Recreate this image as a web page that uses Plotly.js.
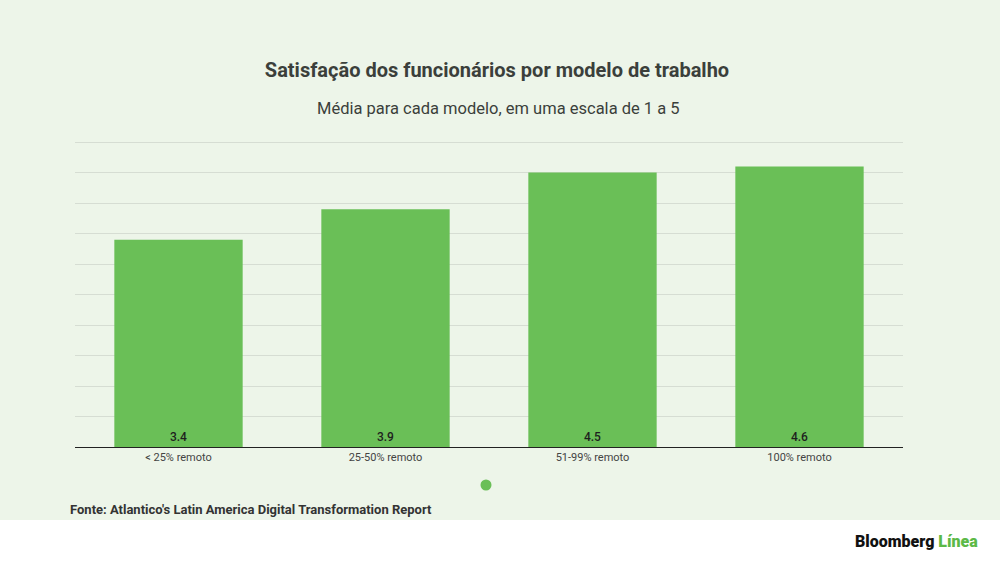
<!DOCTYPE html>
<html>
<head>
<meta charset="utf-8">
<script src="https://cdn.plot.ly/plotly-3.0.1.min.js"></script>
<style>
  html, body { margin: 0; padding: 0; background: #ffffff; }
  #chart { width: 1000px; height: 562px; }
</style>
</head>
<body>
<div id="chart"></div>
<script>
const MODELOS = ['< 25% remoto', '25-50% remoto', '51-99% remoto', '100% remoto']
const MEDIAS = [3.4, 3.9, 4.5, 4.6]
const TITULO = 'Satisfação dos funcionários por modelo de trabalho'
const SUBTITULO = 'Média para cada modelo, em uma escala de 1 a 5'
const FONTE = "Fonte: Atlantico's Latin America Digital Transformation Report"

const COLOR_BAR = '#6abf57'
const COLOR_BG = '#edf5e9'
const COLOR_TEXT = '#3b3f3b'

// plot area: baseline at y=447px, 0.5 units per 30.5px
const PLOT_H = 311

const trace = {
  type: 'bar',
  x: MODELOS,
  y: MEDIAS,
  marker: { color: COLOR_BAR },
  text: MEDIAS.map(v => v.toFixed(1)),
  textposition: 'inside',
  insidetextanchor: 'start',
  textangle: 0,
  textfont: { family: 'Roboto', size: 12, weight: 500, color: '#1e1e1e' },
  hoverinfo: 'x+y'
}

const layout = {
  width: 1000,
  height: 562,
  margin: { l: 75, r: 97, t: 447 - PLOT_H, b: 115 },
  paper_bgcolor: COLOR_BG,
  plot_bgcolor: COLOR_BG,
  font: { family: 'Roboto', color: COLOR_TEXT },
  showlegend: false,
  bargap: 0.38,
  title: {
    text: '<b>' + TITULO + '</b>',
    font: { family: 'Roboto', size: 20, color: COLOR_TEXT },
    x: 0.497,
    xanchor: 'center',
    y: 1 - 70 / 562,
    yanchor: 'middle'
  },
  xaxis: {
    showgrid: false,
    showline: true,
    linecolor: '#222222',
    linewidth: 1,
    ticks: '',
    tickfont: { family: 'Roboto', size: 11, color: '#444444' },
    fixedrange: true
  },
  yaxis: {
    range: [0, 5.1],
    tickvals: [0.5, 1, 1.5, 2, 2.5, 3, 3.5, 4, 4.5, 5],
    showgrid: true,
    gridcolor: '#d6ddd3',
    gridwidth: 1,
    showticklabels: false,
    zeroline: false,
    ticks: '',
    fixedrange: true
  },
  shapes: [
    {
      type: 'rect', xref: 'paper', yref: 'paper', layer: 'below',
      x0: -0.2, x1: 1.3, y0: -73 / PLOT_H, y1: -0.6,
      fillcolor: '#ffffff', line: { width: 0 }
    },
    {
      type: 'circle', xref: 'paper', yref: 'paper', layer: 'above',
      x0: (480.5 - 75) / 828, x1: (491.5 - 75) / 828,
      y0: (447 - 490.5) / PLOT_H, y1: (447 - 479.5) / PLOT_H,
      fillcolor: COLOR_BAR, line: { width: 0 }
    }
  ],
  annotations: [
    {
      text: SUBTITULO,
      xref: 'paper', yref: 'paper',
      x: (498 - 75) / 828, y: (447 - 108) / PLOT_H,
      xanchor: 'center', yanchor: 'middle',
      showarrow: false,
      font: { family: 'Roboto', size: 16.5, color: COLOR_TEXT }
    },
    {
      text: '<b>' + FONTE + '</b>',
      xref: 'paper', yref: 'paper',
      x: (68 - 75) / 828, y: (447 - 509) / PLOT_H,
      xanchor: 'left', yanchor: 'middle',
      showarrow: false,
      font: { family: 'Roboto', size: 13, color: '#333333' }
    },
    {
      text: '<span style="color:#111111">Bloomberg</span> <span style="color:#5cb947">Línea</span>',
      xref: 'paper', yref: 'paper',
      x: (980 - 75) / 828, y: (447 - 541) / PLOT_H,
      xanchor: 'right', yanchor: 'middle',
      showarrow: false,
      font: { family: 'Roboto', size: 16, weight: 900, color: '#111111' }
    }
  ]
}

Plotly.newPlot('chart', [trace], layout, { displayModeBar: false, staticPlot: true })
</script>
</body>
</html>
